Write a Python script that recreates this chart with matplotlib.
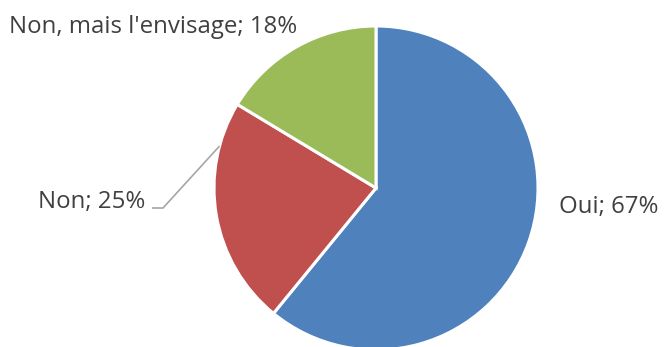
import numpy as np
import matplotlib.pyplot as plt

# survey answers (percent)
categories = ['Oui', 'Non', "Non, mais l'envisage"]
values = [67, 25, 18]
colors = ['#4F81BD', '#C0504D', '#9BBB59']

plt.rcParams['font.family'] = ['Open Sans', 'DejaVu Sans']
text_color = '#404040'

W, H = 664, 347
fig = plt.figure(figsize=(W / 100, H / 100), dpi=100)
ax = fig.add_axes([0, 0, 1, 1])

# pie drawn in pixel-like coordinates
cx, cy, r = 376, H - 188, 162
wedges, _ = ax.pie(values, colors=colors, startangle=90, counterclock=False,
                   center=(cx, cy), radius=r, frame=True,
                   wedgeprops=dict(edgecolor='white', linewidth=2.2))
ax.set_xlim(0, W)
ax.set_ylim(0, H)
ax.set_aspect('equal')
ax.axis('off')

labels = ['%s; %d%%' % (c, v) for c, v in zip(categories, values)]
fs = 17.3
ax.text(559, H - 213, labels[0], ha='left', va='baseline', fontsize=fs, color=text_color)
ax.text(145, H - 208, labels[1], ha='right', va='baseline', fontsize=fs, color=text_color)
ax.text(9, H - 33, labels[2], ha='left', va='baseline', fontsize=fs, color=text_color)

# leader line from the "Non" label to the edge of its wedge
w = wedges[1]
t1, t2 = sorted([w.theta1, w.theta2])
target = 165.0
while target > t2:
    target -= 360
while target < t1:
    target += 360
ang = np.deg2rad(min(max(target, t1 + 3), t2 - 3))
ex, ey = cx + r * np.cos(ang), cy + r * np.sin(ang)
ax.plot([152, 163, ex], [H - 208, H - 208, ey], color='#A6A6A6', lw=1.2,
        solid_capstyle='butt')

fig.savefig('out.png', dpi=100)
